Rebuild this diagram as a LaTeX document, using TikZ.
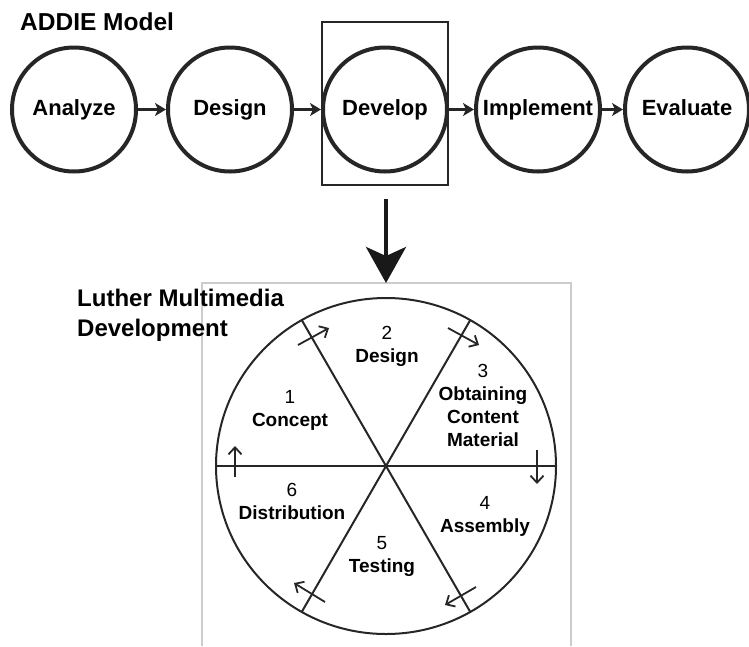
\documentclass[tikz,border=0pt]{standalone}
\usepackage{fontspec}
\setmainfont{Liberation Sans}
\usetikzlibrary{arrows.meta}

\begin{document}
\begin{tikzpicture}[x=1pt,y=-1pt,
    phase/.style={circle,draw=black!85,line width=4pt,minimum size=124pt,inner sep=0pt,
      text height=16pt,text depth=4pt,font=\fontsize{22}{26}\selectfont\bfseries},
    flow/.style={-{Stealth[length=11pt,width=13pt,inset=3pt]},line width=2.5pt,black!85},
    title/.style={font=\fontsize{24.5}{30}\selectfont\bfseries,align=left,inner sep=0pt},
    stage/.style={font=\fontsize{19}{23}\selectfont\bfseries,align=center,inner sep=0pt},
    turn/.style={-{Straight Barb[length=7pt,width=13pt]},line width=1.8pt,black!85},
    wheel/.style={line width=2pt,black!85}]
                \useasboundingbox (0,0) rectangle (749,646);
                % ADDIE
                \node[title,anchor=west] (addie) at (20,22) {ADDIE Model};
                \node[phase] (analyze) at (74,109.5) {Analyze};
                \node[phase] (design) at (230,109.5) {Design};
                \node[phase] (develop) at (385,109.5) {Develop};
                \node[phase] (implement) at (538,109.5) {Implement};
                \node[phase] (evaluate) at (687,109.5) {Evaluate};
                \node[draw=black!85,line width=2pt,minimum width=126pt,minimum height=163pt,inner sep=0pt] (devbox) at (385,103.5) {};
                \draw[flow] (analyze) -- (design);
                \draw[flow] (design) -- (develop);
                \draw[flow] (develop) -- (implement);
                \draw[flow] (implement) -- (evaluate);
                % frame of the Luther picture
                \draw[gray!40,line width=1.5pt] (202,646) -- (202,283) -- (571,283) -- (571,646);
                \coordinate (top) at (386,283);
                \draw[-{Stealth[length=36pt,width=40pt,inset=9pt]},line width=4pt,black!90,shorten <=13pt] (devbox.south -| top) -- (top);
                \node[title,anchor=north west,font=\fontsize{24}{30}\selectfont\bfseries] (luther) at (77,289) {Luther Multimedia\\Development};
                % Luther wheel
                \coordinate (wc) at (386,466);
                \draw[wheel] (wc) ellipse (170 and 168);
                \draw[wheel] (wc) ++(-170,0) -- ++(340,0);
                \draw[wheel] (wc) ++(120:169) -- ++(-60:338);
                \draw[wheel] (wc) ++(60:169) -- ++(240:338);
                \node[stage] (concept) at (290,410) {\mdseries 1\\Concept};
                \node[stage] (sdesign) at (387,346) {\mdseries 2\\Design};
                \node[stage] (content) at (483,405) {\mdseries 3\\Obtaining\\Content\\Material};
                \node[stage] (assembly) at (485,516) {\mdseries 4\\Assembly};
                \node[stage] (testing) at (382,556) {\mdseries 5\\Testing};
                \node[stage] (distribution) at (292,501) {\mdseries 6\\Distribution};
                \draw[turn] (298,345) -- (329,328);
                \draw[turn] (448,328) -- (479,345);
                \draw[turn] (537,450) -- (537,484);
                \draw[turn] (476,587) -- (445,605);
                \draw[turn] (325,602) -- (294,583);
                \draw[turn] (235,477) -- (235,446);
\end{tikzpicture}
\end{document}
